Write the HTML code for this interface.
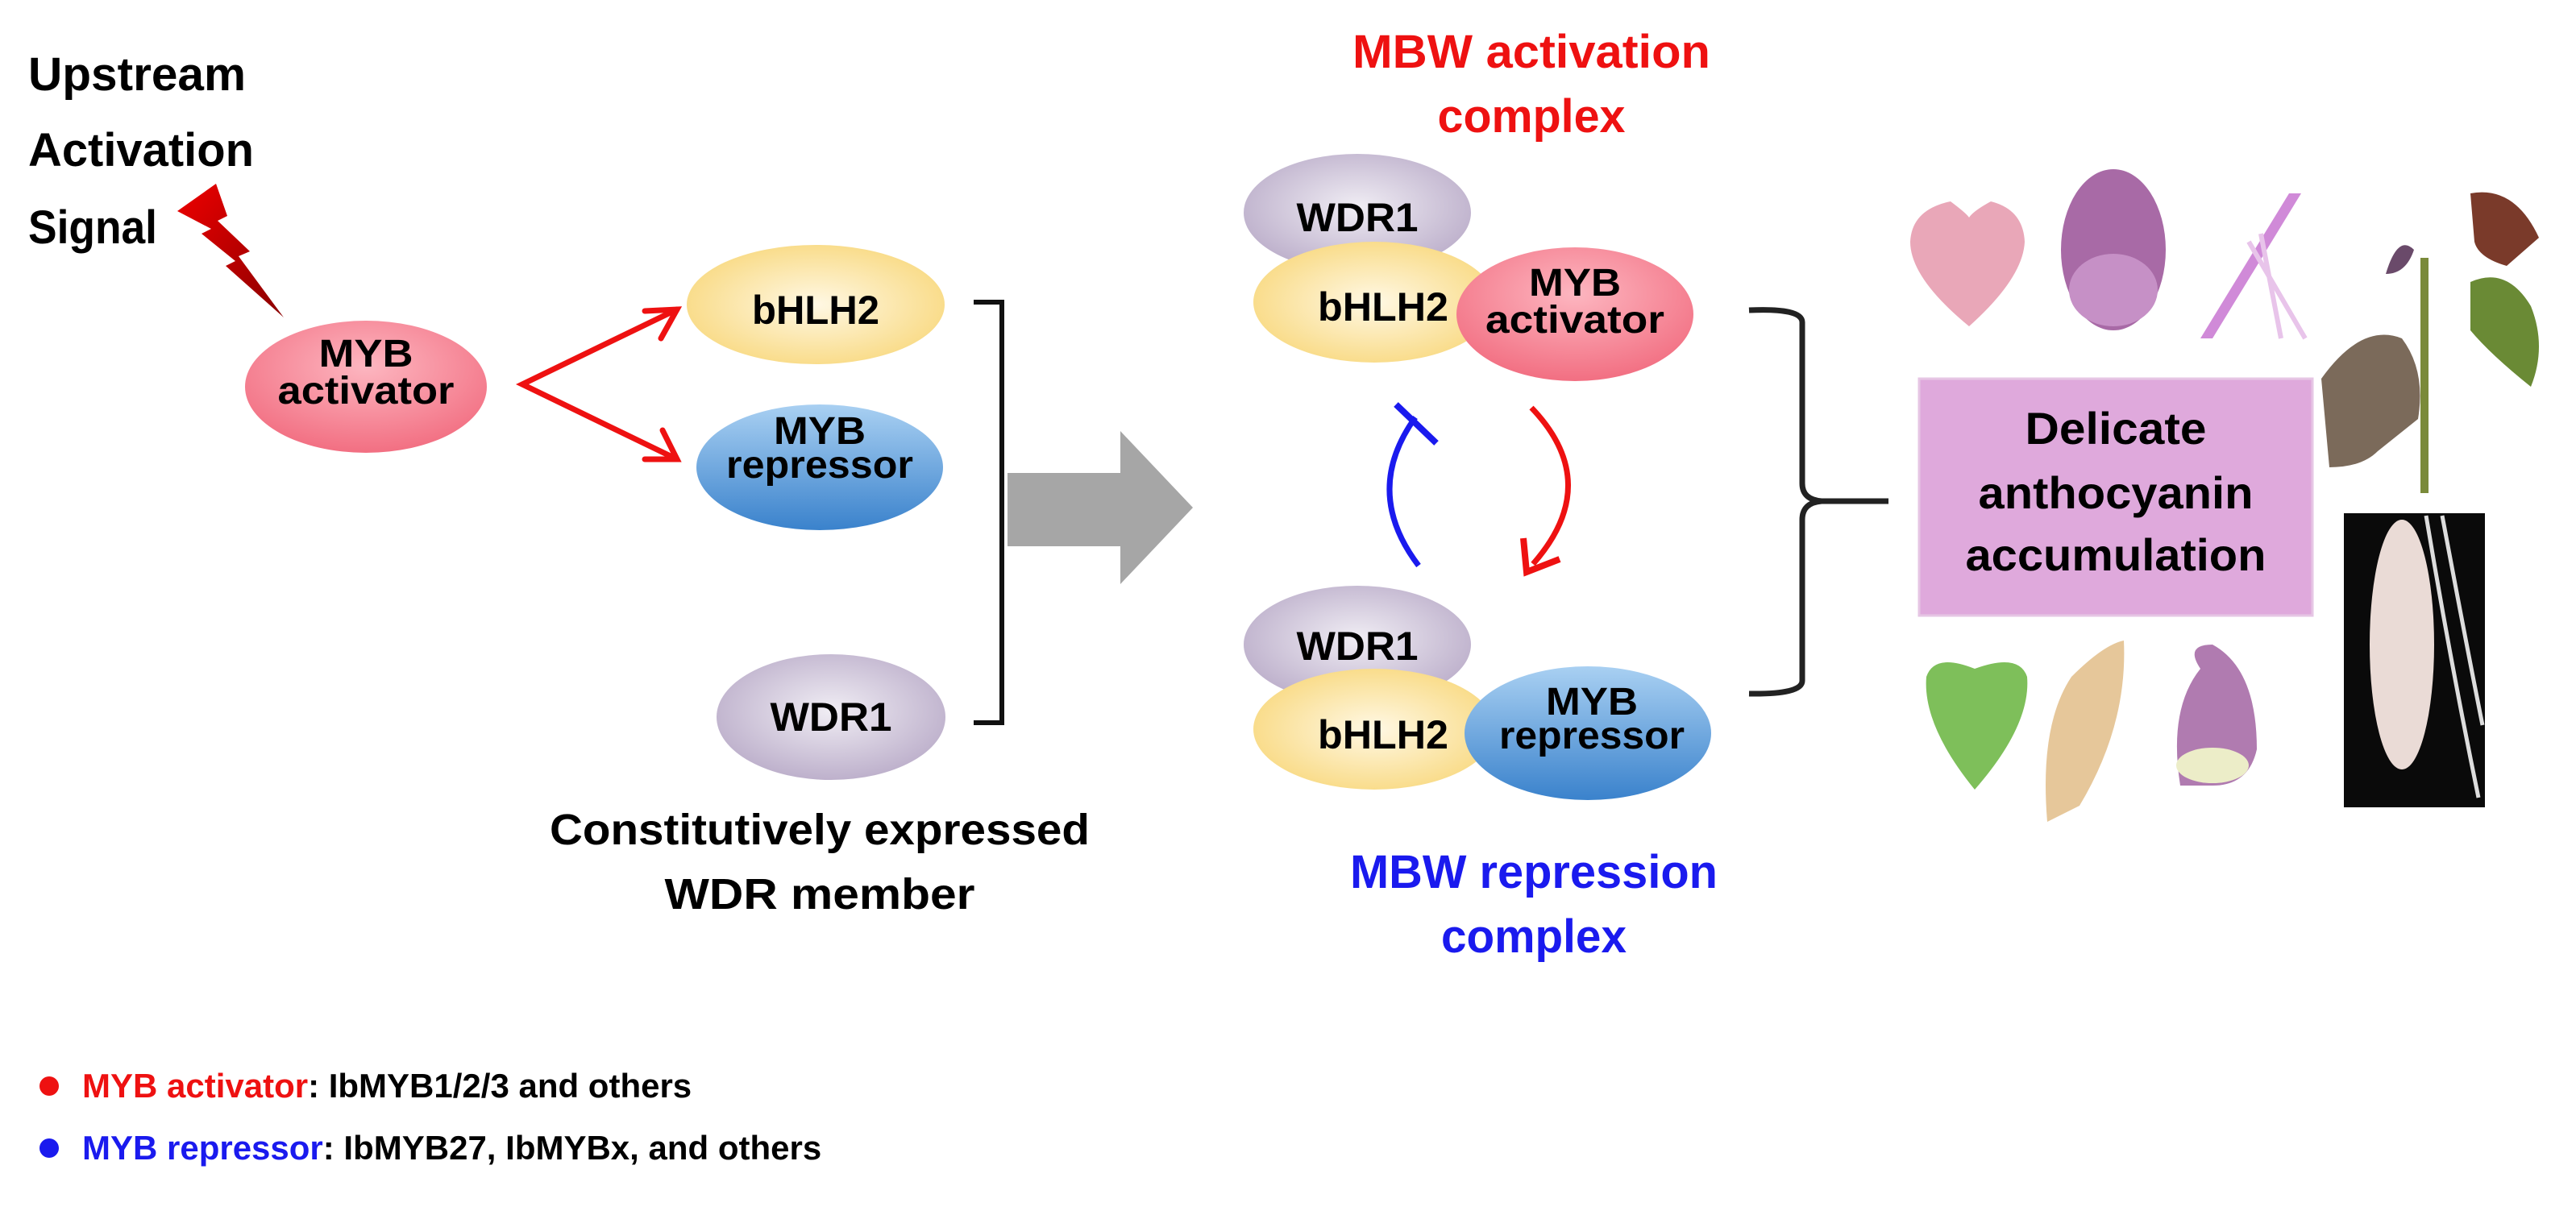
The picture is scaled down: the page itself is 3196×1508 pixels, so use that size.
<!DOCTYPE html>
<html><head><meta charset="utf-8"><style>
html,body{margin:0;padding:0;background:#fff;}
svg{display:block;}
text{font-family:"Liberation Sans",sans-serif;font-weight:bold;}
</style></head><body>
<svg width="3196" height="1508" viewBox="0 0 3196 1508" xmlns="http://www.w3.org/2000/svg">
<defs>
<radialGradient id="pink" cx="50%" cy="35%" r="65%"><stop offset="0" stop-color="#fdb6c0"/><stop offset="1" stop-color="#f26f82"/></radialGradient>
<radialGradient id="yel" cx="50%" cy="50%" r="60%"><stop offset="0" stop-color="#fff8e4"/><stop offset="1" stop-color="#f8d77a"/></radialGradient>
<linearGradient id="blue" x1="0" y1="0" x2="0" y2="1"><stop offset="0" stop-color="#a9d0f2"/><stop offset="1" stop-color="#3a82cc"/></linearGradient>
<radialGradient id="lav" cx="50%" cy="45%" r="60%"><stop offset="0" stop-color="#f0edf4"/><stop offset="1" stop-color="#b9abc8"/></radialGradient>
<linearGradient id="bolt" x1="0" y1="0" x2="1" y2="1"><stop offset="0" stop-color="#ee0000"/><stop offset="1" stop-color="#8a0000"/></linearGradient>
</defs>

<text x="35" y="112" font-size="58" textLength="270" lengthAdjust="spacingAndGlyphs">Upstream</text>
<text x="35" y="206" font-size="58" textLength="280" lengthAdjust="spacingAndGlyphs">Activation</text>
<text x="35" y="302" font-size="58" textLength="160" lengthAdjust="spacingAndGlyphs">Signal</text>
<polygon points="220,262 268,228 282,268 270,274 310,312 296,318 352,394 280,330 292,324 250,290 262,284" fill="url(#bolt)"/>

<ellipse cx="454" cy="480" rx="150" ry="82" fill="url(#pink)"/>
<text x="454" y="455" font-size="48" text-anchor="middle" textLength="117" lengthAdjust="spacingAndGlyphs">MYB</text>
<text x="454" y="501" font-size="48" text-anchor="middle" textLength="219" lengthAdjust="spacingAndGlyphs">activator</text>

<g stroke="#ee1111" stroke-width="7" fill="none" stroke-linecap="round">
<polyline points="840,384 648,477 840,570"/>
<polyline points="800,386 840,384 820,420"/>
<polyline points="800,570 840,570 822,534"/>
</g>

<ellipse cx="1012" cy="378" rx="160" ry="74" fill="url(#yel)"/>
<text x="1012" y="402" font-size="50" text-anchor="middle" textLength="158" lengthAdjust="spacingAndGlyphs">bHLH2</text>
<ellipse cx="1017" cy="580" rx="153" ry="78" fill="url(#blue)"/>
<text x="1017" y="551" font-size="48" text-anchor="middle" textLength="114" lengthAdjust="spacingAndGlyphs">MYB</text>
<text x="1017" y="593" font-size="48" text-anchor="middle" textLength="232" lengthAdjust="spacingAndGlyphs">repressor</text>
<ellipse cx="1031" cy="890" rx="142" ry="78" fill="url(#lav)"/>
<text x="1031" y="907" font-size="50" text-anchor="middle" textLength="151" lengthAdjust="spacingAndGlyphs">WDR1</text>

<polyline points="1208,375 1243,375 1243,897 1208,897" stroke="#111" stroke-width="6" fill="none"/>
<polygon points="1250,587 1390,587 1390,535 1480,630 1390,725 1390,678 1250,678" fill="#a6a6a6"/>

<text x="1017" y="1048" font-size="54" text-anchor="middle" textLength="670" lengthAdjust="spacingAndGlyphs">Constitutively expressed</text>
<text x="1017" y="1128" font-size="54" text-anchor="middle" textLength="385" lengthAdjust="spacingAndGlyphs">WDR member</text>

<text x="1900" y="84" font-size="58" fill="#ee1111" text-anchor="middle" textLength="444" lengthAdjust="spacingAndGlyphs">MBW activation</text>
<text x="1900" y="164" font-size="58" fill="#ee1111" text-anchor="middle" textLength="233" lengthAdjust="spacingAndGlyphs">complex</text>

<ellipse cx="1684" cy="264" rx="141" ry="73" fill="url(#lav)"/>
<text x="1684" y="287" font-size="50" text-anchor="middle" textLength="151" lengthAdjust="spacingAndGlyphs">WDR1</text>
<ellipse cx="1705" cy="375" rx="150" ry="75" fill="url(#yel)"/>
<ellipse cx="1954" cy="390" rx="147" ry="83" fill="url(#pink)"/>
<text x="1716" y="398" font-size="50" text-anchor="middle" textLength="162" lengthAdjust="spacingAndGlyphs">bHLH2</text>
<text x="1954" y="367" font-size="48" text-anchor="middle" textLength="114" lengthAdjust="spacingAndGlyphs">MYB</text>
<text x="1954" y="413" font-size="48" text-anchor="middle" textLength="222" lengthAdjust="spacingAndGlyphs">activator</text>

<path d="M1760,702 Q1690,610 1756,518" stroke="#1a1aee" stroke-width="7" fill="none"/>
<line x1="1732" y1="502" x2="1782" y2="550" stroke="#1a1aee" stroke-width="8"/>
<path d="M1900,506 Q1990,600 1902,700" stroke="#ee1111" stroke-width="7" fill="none"/>
<polyline points="1890,668 1894,710 1935,694" stroke="#ee1111" stroke-width="8" fill="none"/>

<ellipse cx="1684" cy="800" rx="141" ry="73" fill="url(#lav)"/>
<text x="1684" y="819" font-size="50" text-anchor="middle" textLength="151" lengthAdjust="spacingAndGlyphs">WDR1</text>
<ellipse cx="1705" cy="905" rx="150" ry="75" fill="url(#yel)"/>
<ellipse cx="1970" cy="910" rx="153" ry="83" fill="url(#blue)"/>
<text x="1716" y="929" font-size="50" text-anchor="middle" textLength="162" lengthAdjust="spacingAndGlyphs">bHLH2</text>
<text x="1975" y="887" font-size="48" text-anchor="middle" textLength="114" lengthAdjust="spacingAndGlyphs">MYB</text>
<text x="1975" y="929" font-size="48" text-anchor="middle" textLength="230" lengthAdjust="spacingAndGlyphs">repressor</text>

<text x="1903" y="1102" font-size="58" fill="#1a1aee" text-anchor="middle" textLength="456" lengthAdjust="spacingAndGlyphs">MBW repression</text>
<text x="1903" y="1182" font-size="58" fill="#1a1aee" text-anchor="middle" textLength="230" lengthAdjust="spacingAndGlyphs">complex</text>

<path d="M2170,385 Q2236,382 2236,400 L2236,600 Q2236,620 2260,622 L2343,622 M2260,622 Q2236,624 2236,645 L2236,845 Q2236,862 2170,861" stroke="#222" stroke-width="7" fill="none"/>

<rect x="2381" y="470" width="488" height="294" fill="#dfa9dc" stroke="#e6c6e4" stroke-width="3"/>
<text x="2625" y="551" font-size="56" text-anchor="middle" textLength="225" lengthAdjust="spacingAndGlyphs">Delicate</text>
<text x="2625" y="631" font-size="56" text-anchor="middle" textLength="341" lengthAdjust="spacingAndGlyphs">anthocyanin</text>
<text x="2625" y="708" font-size="56" text-anchor="middle" textLength="373" lengthAdjust="spacingAndGlyphs">accumulation</text>

<path d="M2443,405 Q2370,345 2370,300 Q2372,260 2420,250 Q2440,265 2443,270 Q2448,262 2470,250 Q2510,260 2512,300 Q2510,345 2443,405 Z" fill="#e9a7b8"/>
<ellipse cx="2622" cy="310" rx="65" ry="100" fill="#a86aa6"/>
<ellipse cx="2622" cy="360" rx="55" ry="45" fill="#c690c6"/>
<path d="M2730,420 L2840,240 L2855,240 L2745,420 Z" fill="#d08ad8"/>
<path d="M2790,300 L2860,420 M2805,290 L2830,420" stroke="#e8c4ea" stroke-width="6"/>
<line x1="3008" y1="320" x2="3008" y2="612" stroke="#7a8a3a" stroke-width="10"/>
<path d="M2880,470 Q2930,400 2980,420 Q3010,460 3000,520 L2950,560 Q2930,580 2890,580 Z" fill="#7b6a5a"/>
<path d="M3065,240 Q3120,230 3150,295 L3110,330 Q3075,320 3070,300 Z" fill="#7a3a2a"/>
<path d="M3065,350 Q3110,330 3140,380 Q3160,430 3140,480 Q3090,440 3065,410 Z" fill="#6a8a35"/>
<path d="M2960,340 Q2975,290 2995,310 Q2985,340 2960,340 Z" fill="#6a4a6a"/>
<rect x="2908" y="637" width="175" height="365" fill="#0a0a0a"/>
<ellipse cx="2980" cy="800" rx="40" ry="155" fill="#eadbd6"/>
<path d="M3010,640 Q3040,820 3075,990 M3030,640 Q3060,800 3080,900" stroke="#ddd" stroke-width="5" fill="none"/>
<path d="M2450,980 Q2385,900 2390,840 Q2400,810 2450,830 Q2505,810 2515,840 Q2520,900 2450,980 Z" fill="#7ebf5a"/>
<path d="M2540,1020 Q2530,900 2570,840 Q2610,800 2635,795 Q2640,900 2580,1000 Z" fill="#e6c79a"/>
<path d="M2705,975 Q2690,880 2730,830 Q2710,800 2745,800 Q2800,830 2800,930 Q2790,975 2745,975 Z" fill="#b07bb0"/>
<ellipse cx="2745" cy="950" rx="45" ry="22" fill="#ecedc8"/>

<circle cx="61" cy="1348" r="12" fill="#ee1111"/>
<text x="102" y="1362" font-size="42"><tspan fill="#ee1111">MYB activator</tspan><tspan fill="#000">: IbMYB1/2/3 and others</tspan></text>
<circle cx="61" cy="1425" r="12" fill="#1a1aee"/>
<text x="102" y="1439" font-size="42"><tspan fill="#1a1aee">MYB repressor</tspan><tspan fill="#000">: IbMYB27, IbMYBx, and others</tspan></text>
</svg>
</body></html>
